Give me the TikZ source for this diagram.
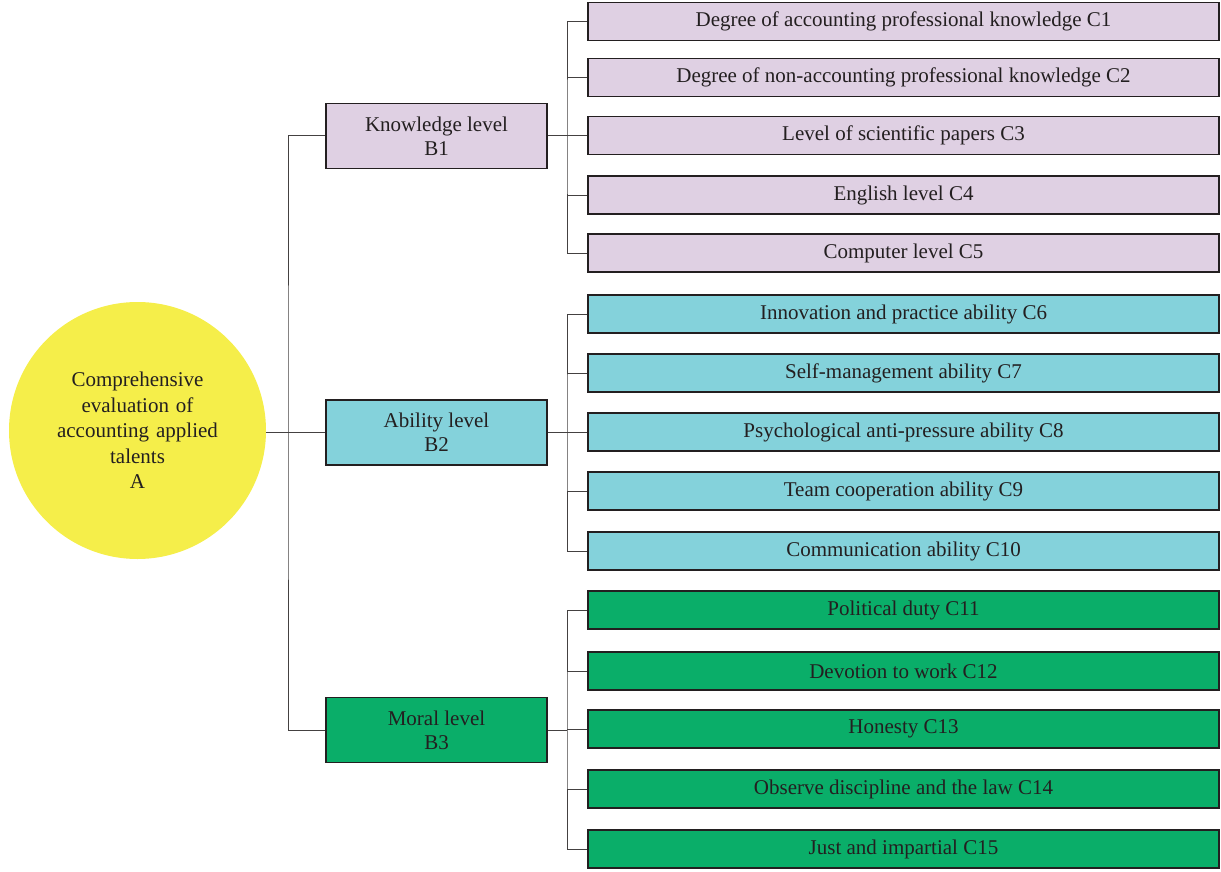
\documentclass[tikz,border=0pt]{standalone}
\usepackage{fontspec}
\setmainfont{Liberation Serif}
\definecolor{lav}{HTML}{DFD0E3}
\definecolor{cya}{HTML}{84D2DB}
\definecolor{grn}{HTML}{0AAE69}
\definecolor{yel}{HTML}{F5EE4A}
\definecolor{txt}{HTML}{231F20}
\begin{document}
\begin{tikzpicture}[x=1pt,y=-1pt,
  font=\fontsize{21}{24}\selectfont, text=txt,
  bbox/.style={draw=txt, line width=1.2pt, minimum width=221pt, minimum height=65pt, align=center, inner sep=0pt},
  cbox/.style={draw=txt, line width=1.2pt, minimum width=631pt, minimum height=38pt, inner sep=0pt},
  conn/.style={draw=txt!85, line width=1pt}]
\useasboundingbox (0,0) rectangle (1221,872);
\node[circle, fill=yel, minimum size=257pt, inner sep=0pt, align=center, text width=200pt, font=\fontsize{21}{25.5}\selectfont] (A) at (137.5,430.5) {Comprehensive\\evaluation of\\accounting applied\\talents\\A};
\node[bbox, fill=lav] (B1) at (436.5,136) {Knowledge level\\B1};
\node[bbox, fill=cya] (B2) at (436.5,432.5) {Ability level\\B2};
\node[bbox, fill=grn] (B3) at (436.5,730) {Moral level\\B3};
\foreach \n/\y/\t/\c in {1/21.5/Degree of accounting professional knowledge C1/lav,
  2/77.5/Degree of non-accounting professional knowledge C2/lav,
  3/135.5/Level of scientific papers C3/lav,
  4/195/English level C4/lav,
  5/253/Computer level C5/lav,
  6/314/Innovation and practice ability C6/cya,
  7/373/Self-management ability C7/cya,
  8/432/Psychological anti-pressure ability C8/cya,
  9/491/Team cooperation ability C9/cya,
  10/551/Communication ability C10/cya,
  11/610/Political duty C11/grn,
  12/671/Devotion to work C12/grn,
  13/729/Honesty C13/grn,
  14/789/Observe discipline and the law C14/grn,
  15/849/Just and impartial C15/grn}
  \node[cbox, fill=\c] (C\n) at (903.5,\y) {\t};
% A to B
\coordinate (jA) at (288,0 |- B2.west);
\draw[conn] (jA -| A.east) -- (jA);
\draw[conn] (B1.west) -| (jA) |- (B3.west);
\draw[conn] (jA) -- (B2.west);
% B to C
\foreach \b/\f/\l in {1/1/5,2/6/10,3/11/15}{
  \coordinate (j\b) at (567,0 |- B\b.east);
  \draw[conn] (B\b.east) -- (j\b);
  \draw[conn] (C\f.west) -| (j\b) |- (C\l.west);
  \pgfmathtruncatemacro{\s}{\f+1}
  \pgfmathtruncatemacro{\e}{\l-1}
  \foreach \k in {\s,...,\e} \draw[conn] (C\k.west) -- (C\k.west -| j\b);
}
\end{tikzpicture}
\end{document}
